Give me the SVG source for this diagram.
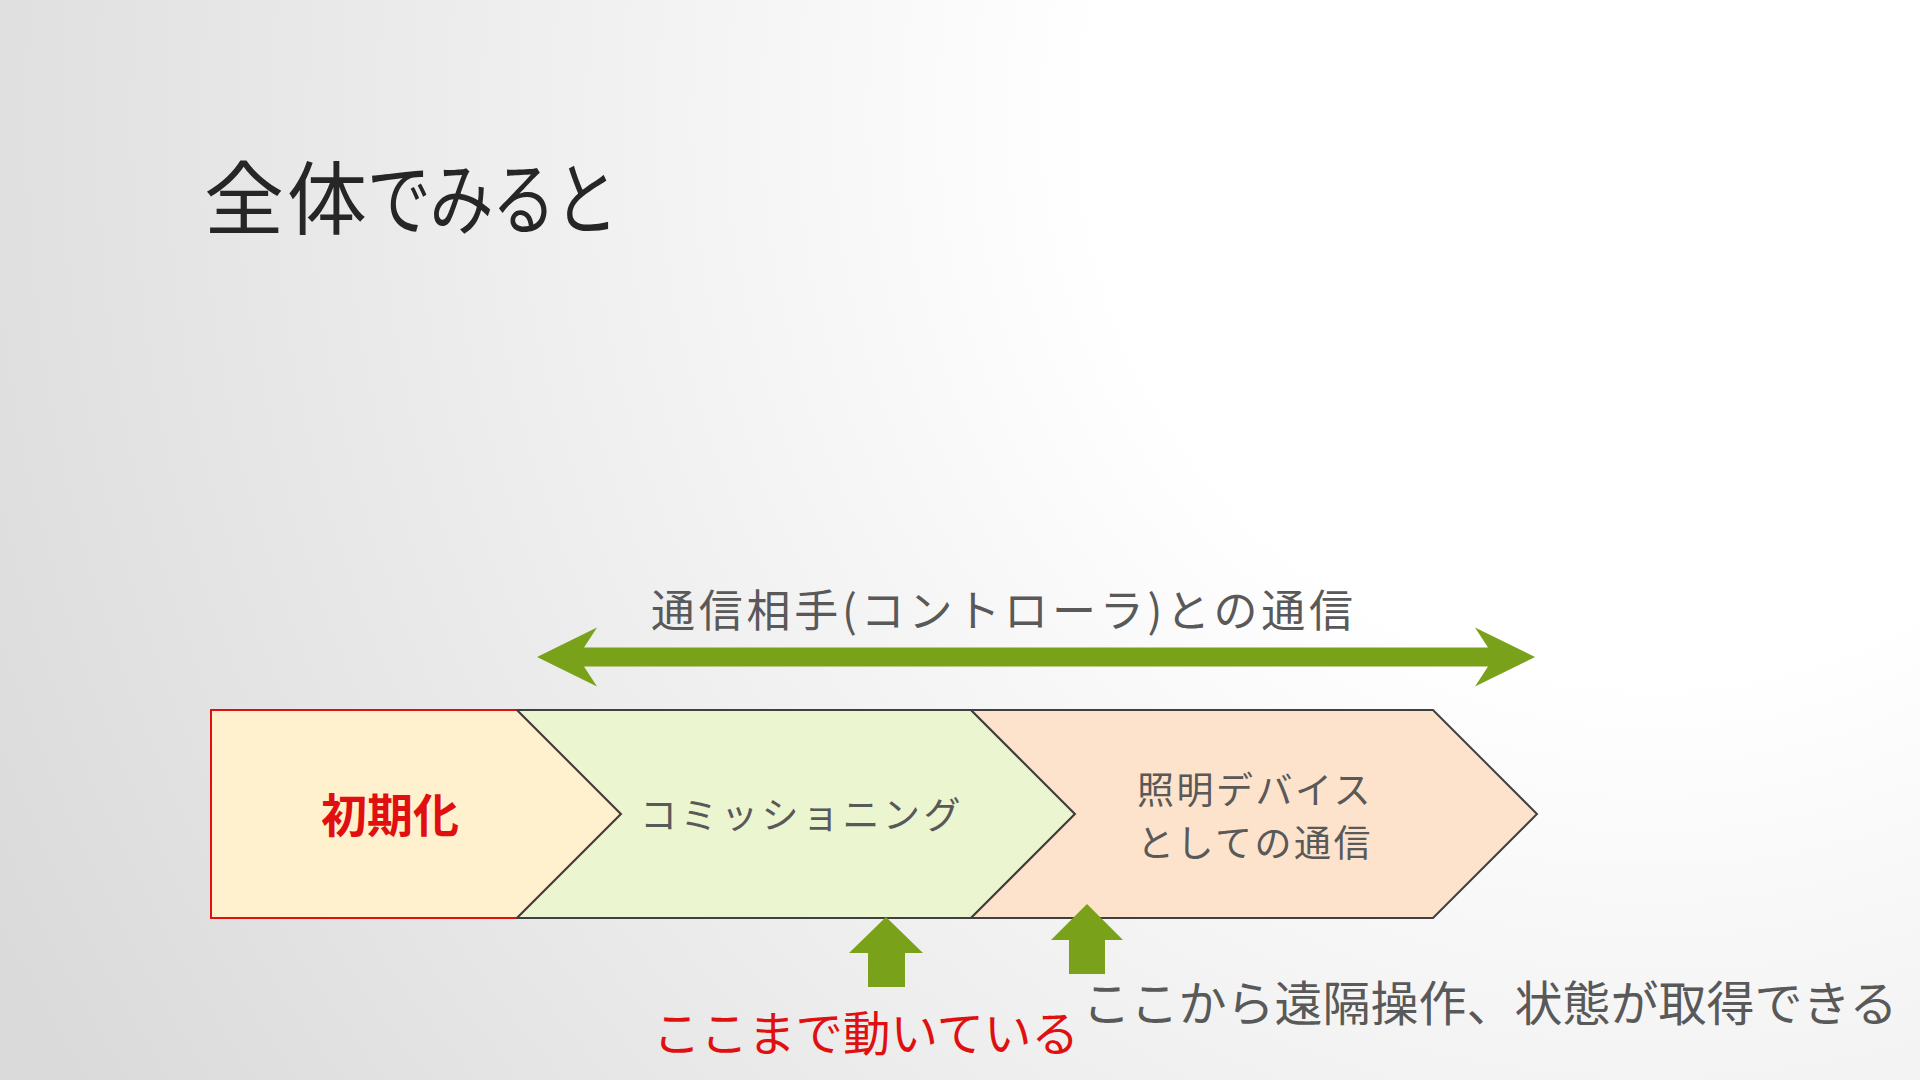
<svg xmlns="http://www.w3.org/2000/svg" width="1920" height="1080" viewBox="0 0 1920 1080">
  <defs>
    <radialGradient id="bg" gradientUnits="userSpaceOnUse" cx="1650" cy="120" r="1850">
      <stop offset="0" stop-color="#FFFFFF"/>
      <stop offset="0.3" stop-color="#FFFFFF"/>
      <stop offset="1" stop-color="#DADADA"/>
    </radialGradient>
  </defs>
  <style>
    text { font-family: "Noto Sans CJK JP", "Noto Sans", sans-serif; }
    .title { font-size: 80px; fill: #262626; }
    .gray { fill: #595959; }
    .red { fill: #E01010; }
    .chev { stroke-width: 2; stroke-linejoin: miter; }
    .green { fill: #79A11A; }
  </style>
  <rect x="0" y="0" width="1920" height="1080" fill="url(#bg)"/>

  <g id="title">
    <text class="title" x="204 287" y="228">全体</text>
    <text class="title" transform="translate(367,228) scale(0.8,1)" x="0 78 156 234" y="0">でみると</text>
  </g>

  <g id="node-init">
    <polygon class="chev" points="211,710 517,710 621,814 517,918 211,918" fill="#FFF1CD" stroke="#E01010" stroke-width="2.5"/>
    <text class="red" x="390" y="832" font-size="46" font-weight="bold" text-anchor="middle">初期化</text>
  </g>
  <g id="node-commissioning">
    <polygon class="chev" points="517,710 971,710 1075,814 971,918 517,918 621,814" fill="#EBF5D0" stroke="#404040"/>
    <text class="gray" x="802" y="829" font-size="37" text-anchor="middle" letter-spacing="3.5">コミッショニング</text>
  </g>
  <g id="node-device">
    <polygon class="chev" points="971,710 1433,710 1537,814 1433,918 971,918 1075,814" fill="#FDE3CB" stroke="#404040"/>
    <text class="gray" x="1255" y="804" font-size="37" text-anchor="middle" letter-spacing="2.5">照明デバイス</text>
    <text class="gray" x="1255" y="857" font-size="37" text-anchor="middle" letter-spacing="2.5">としての通信</text>
  </g>

  <g id="connectors">
    <path class="green" d="M537,657 L597,627.5 L584,647.5 L1488,647.5 L1475,627.5 L1535,657 L1475,686.5 L1488,666.5 L584,666.5 L597,686.5 Z"/>
    <polygon class="green" points="886,917 923,953 905,953 905,987 868,987 868,953 849,953"/>
    <polygon class="green" points="1087,904 1123,940 1105,940 1105,974 1069,974 1069,940 1051,940"/>
  </g>

  <g id="labels">
    <text class="gray" x="651" y="627" font-size="44" textLength="702" lengthAdjust="spacing">通信相手(コントローラ)との通信</text>
    <text class="red" x="866" y="1051" font-size="47.5" text-anchor="middle">ここまで動いている</text>
    <text class="gray" x="1490" y="1021" font-size="48" text-anchor="middle">ここから遠隔操作、状態が取得できる</text>
  </g>
</svg>
